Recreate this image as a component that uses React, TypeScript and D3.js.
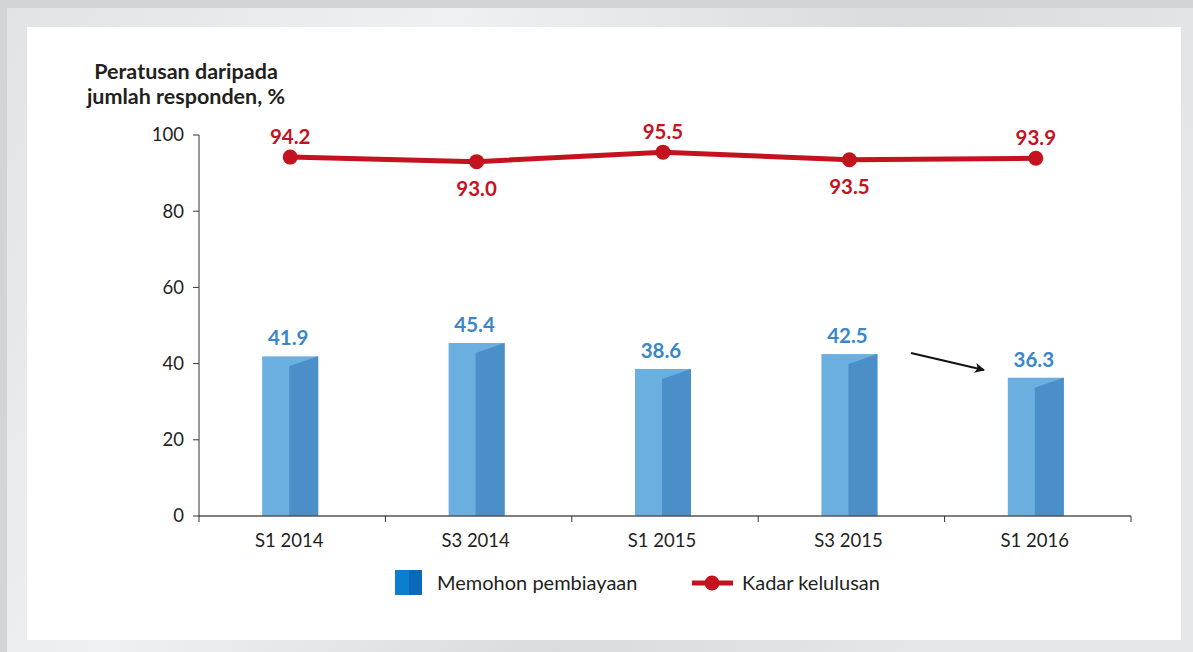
import React from "react";
import * as d3 from "d3";

const categories = ["S1 2014", "S3 2014", "S1 2015", "S3 2015", "S1 2016"];
const applied = [41.9, 45.4, 38.6, 42.5, 36.3];
const approval = [94.2, 93.0, 95.5, 93.5, 93.9];
const approvalLabelAbove = [true, false, true, false, true];
const yTicks = [0, 20, 40, 60, 80, 100];
const seriesNames = ["Memohon pembiayaan", "Kadar kelulusan"];
const yTitle = ["Peratusan daripada", "jumlah responden, %"];

const W = 1193;
const H = 652;
const FONT = "Lato, 'Noto Sans', sans-serif";
const RED = "#c4121f";
const BLUE_TXT = "#3a86c8";
const BAR_LIGHT = "#6aafe0";
const BAR_DARK = "#4a8fc7";

export default function App() {
  const x = d3.scaleBand<string>().domain(categories).range([199, 1131]).padding(0);
  const y = d3.scaleLinear().domain([0, 100]).range([516, 135]);
  const barW = 56;
  const cx = (c: string) => (x(c) as number) + x.bandwidth() / 2 - 2;
  const line = d3
    .line<number>()
    .x((_, i) => cx(categories[i]))
    .y((v) => y(v));

  return (
    <svg
      width={W}
      height={H}
      style={{ position: "absolute", left: 0, top: 0 }}
      xmlns="http://www.w3.org/2000/svg"
    >
      <defs>
        <linearGradient id="bg" x1="0" y1="0" x2="1" y2="0.3">
          <stop offset="0" stopColor="#e2e3e5" />
          <stop offset="0.35" stopColor="#eff0f1" />
          <stop offset="0.7" stopColor="#dadbdd" />
          <stop offset="1" stopColor="#e6e7e9" />
        </linearGradient>
        <linearGradient id="leg" x1="0" y1="0" x2="1" y2="0">
          <stop offset="0" stopColor="#0a7fd0" />
          <stop offset="0.5" stopColor="#0a7fd0" />
          <stop offset="0.5" stopColor="#0a69b8" />
          <stop offset="1" stopColor="#0a69b8" />
        </linearGradient>
        <marker
          id="arrow"
          viewBox="0 0 10 10"
          refX="9"
          refY="5"
          markerWidth="6"
          markerHeight="5"
          orient="auto"
          markerUnits="strokeWidth"
        >
          <path d="M0,0 L10,5 L0,10 L2.5,5 Z" fill="#111" />
        </marker>
      </defs>
      <rect x={0} y={0} width={W} height={H} fill="#d3d4d6" />
      <rect x={7} y={8} width={W - 7} height={H - 8} fill="url(#bg)" />
      <rect x={27} y={27} width={1154} height={613} fill="#ffffff" />

      {/* y title */}
      {yTitle.map((t, i) => (
        <text
          key={t}
          x={186}
          y={79 + i * 25}
          textAnchor="middle"
          fontFamily={FONT}
          fontWeight={700}
          fontSize={21.5}
          fill="#231f20"
        >
          {t}
        </text>
      ))}

      {/* y axis */}
      <line x1={199} x2={199} y1={y(100)} y2={y(0)} stroke="#333" strokeWidth={1} />
      {yTicks.map((t) => (
        <g key={t}>
          <line x1={193} x2={199} y1={y(t)} y2={y(t)} stroke="#333" strokeWidth={1} />
          <text
            x={184}
            y={y(t)}
            dy="0.35em"
            textAnchor="end"
            fontFamily={FONT}
            fontSize={18.5}
            fill="#231f20"
          >
            {t}
          </text>
        </g>
      ))}

      {/* bars */}
      {categories.map((c, i) => {
        const left = cx(c) - barW / 2;
        const top = y(applied[i]);
        const split = left + 27;
        const right = left + barW;
        return (
          <g key={c}>
            <rect x={left} y={top} width={barW} height={y(0) - top} fill={BAR_LIGHT} />
            <path
              d={`M${split},${top + 10} L${right},${top} L${right},${y(0)} L${split},${y(0)} Z`}
              fill={BAR_DARK}
            />
            <text
              x={cx(c) - 2}
              y={top - 11}
              textAnchor="middle"
              fontFamily={FONT}
              fontWeight={700}
              fontSize={20.5}
              fill={BLUE_TXT}
            >
              {applied[i].toFixed(1)}
            </text>
          </g>
        );
      })}

      {/* x axis */}
      <line x1={199} x2={1131} y1={y(0)} y2={y(0)} stroke="#555" strokeWidth={1.5} />
      {[...categories.map((c) => x(c) as number), 1131].map((p, i) => (
        <line key={i} x1={p} x2={p} y1={y(0)} y2={y(0) + 6} stroke="#333" strokeWidth={1} />
      ))}
      {categories.map((c) => (
        <text
          key={c}
          x={(x(c) as number) + x.bandwidth() / 2 - 3}
          y={547}
          textAnchor="middle"
          fontFamily={FONT}
          fontSize={18.5}
          fill="#231f20"
        >
          {c}
        </text>
      ))}

      {/* line */}
      <path d={line(approval) || ""} fill="none" stroke={RED} strokeWidth={5} />
      {approval.map((v, i) => (
        <g key={i}>
          <circle cx={cx(categories[i])} cy={y(v)} r={7.5} fill={RED} />
          <text
            x={cx(categories[i])}
            y={approvalLabelAbove[i] ? y(v) - 13 : y(v) + 34}
            textAnchor="middle"
            fontFamily={FONT}
            fontWeight={700}
            fontSize={20.5}
            fill={RED}
          >
            {v.toFixed(1)}
          </text>
        </g>
      ))}

      {/* arrow */}
      <line
        x1={911}
        y1={353}
        x2={984}
        y2={370}
        stroke="#111"
        strokeWidth={2}
        markerEnd="url(#arrow)"
      />

      {/* legend */}
      <rect x={395} y={570} width={27} height={25} fill="url(#leg)" />
      <text x={437} y={590} fontFamily={FONT} fontSize={20} fill="#231f20">
        {seriesNames[0]}
      </text>
      <line x1={692} x2={733} y1={583} y2={583} stroke={RED} strokeWidth={5} />
      <circle cx={712} cy={583} r={7.5} fill={RED} />
      <text x={742} y={590} fontFamily={FONT} fontSize={20} fill="#231f20">
        {seriesNames[1]}
      </text>
    </svg>
  );
}
